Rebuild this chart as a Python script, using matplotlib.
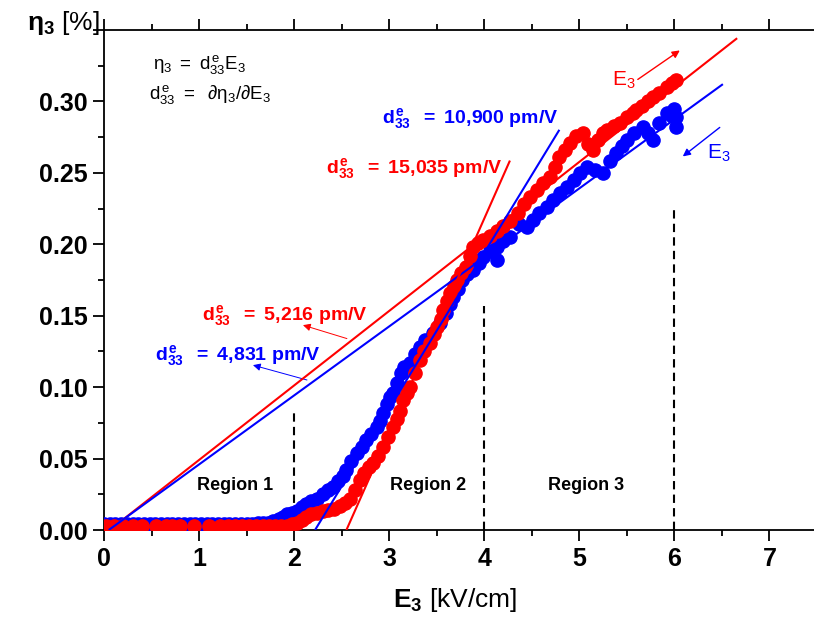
import matplotlib
matplotlib.use("Agg")
import matplotlib.pyplot as plt
from matplotlib.ticker import MultipleLocator, FuncFormatter

plt.rcParams['font.family'] = ['Liberation Sans', 'DejaVu Sans']
plt.rcParams['mathtext.fontset'] = 'custom'
plt.rcParams['mathtext.rm'] = 'Liberation Sans'
plt.rcParams['mathtext.it'] = 'Liberation Sans:italic'
plt.rcParams['mathtext.bf'] = 'Liberation Sans:bold'

# ---------------- data ----------------
# increasing field (red)
red_x = [0.02, 0.10, 0.20, 0.30, 0.40, 0.55, 0.65, 0.72, 0.80, 0.95, 1.10, 1.22, 1.30,
         1.38, 1.45, 1.52, 1.60, 1.67, 1.74, 1.80, 1.86, 1.92, 1.98,
         2.03, 2.08, 2.13, 2.18, 2.24, 2.30, 2.36, 2.42, 2.48, 2.54, 2.59, 2.64, 2.69,
         2.74, 2.79, 2.83, 2.88, 2.94, 2.99, 3.04, 3.08, 3.11, 3.15, 3.19, 3.22, 3.27,
         3.32, 3.37, 3.43, 3.47, 3.50, 3.54, 3.57, 3.61, 3.64, 3.68, 3.71, 3.76, 3.81,
         3.85, 3.88, 3.93, 3.99, 4.06, 4.13, 4.20, 4.27, 4.35, 4.42, 4.48, 4.55, 4.62,
         4.69, 4.74, 4.79, 4.85, 4.90, 4.97, 5.04, 5.09, 5.14, 5.20, 5.25, 5.29, 5.36,
         5.43, 5.50, 5.56, 5.60, 5.66, 5.72, 5.77, 5.84, 5.92, 5.97, 6.02]
red_y = [0.003, 0.003, 0.003, 0.003, 0.003, 0.003, 0.003, 0.003, 0.003, 0.003, 0.003, 0.003, 0.003,
         0.003, 0.003, 0.003, 0.003, 0.003, 0.003, 0.003, 0.003, 0.003, 0.004,
         0.005, 0.007, 0.009, 0.011, 0.012, 0.013, 0.014, 0.015, 0.017, 0.019, 0.022, 0.028, 0.035,
         0.040, 0.044, 0.047, 0.052, 0.058, 0.065, 0.072, 0.078, 0.083, 0.091, 0.096, 0.100, 0.110,
         0.119, 0.125, 0.131, 0.137, 0.142, 0.148, 0.154, 0.160, 0.166, 0.171, 0.175, 0.180, 0.184,
         0.192, 0.198, 0.201, 0.203, 0.206, 0.209, 0.213, 0.216, 0.222, 0.228, 0.233, 0.238, 0.243,
         0.247, 0.254, 0.261, 0.266, 0.271, 0.276, 0.278, 0.270, 0.266, 0.273, 0.278, 0.280, 0.283,
         0.285, 0.289, 0.292, 0.294, 0.297, 0.300, 0.303, 0.306, 0.310, 0.313, 0.315]

# decreasing field (blue)
blue_x = [0.00, 0.06, 0.12, 0.18, 0.24, 0.30, 0.36, 0.42, 0.48, 0.54, 0.60, 0.66, 0.72, 0.78,
          0.84, 0.90, 0.96, 1.02, 1.08, 1.14, 1.20, 1.26, 1.32, 1.38, 1.44, 1.50, 1.56, 1.62, 1.67,
          1.72, 1.78, 1.84, 1.88, 1.93, 1.98, 2.03, 2.08, 2.13, 2.18, 2.24, 2.30, 2.36, 2.41,
          2.46, 2.51, 2.55, 2.60, 2.66, 2.71, 2.76, 2.81, 2.87, 2.90, 2.94, 2.98, 3.01, 3.04,
          3.08, 3.12, 3.16, 3.22, 3.27, 3.32, 3.38, 3.46, 3.53, 3.60, 3.64, 3.67, 3.72, 3.77,
          3.82, 3.88, 3.94, 3.99, 4.06, 4.13, 4.13, 4.20, 4.27, 4.37, 4.45, 4.51, 4.58, 4.66,
          4.72, 4.80, 4.87, 4.94, 5.01, 5.08, 5.16, 5.25, 5.32, 5.39, 5.45, 5.50, 5.58, 5.67,
          5.72, 5.77, 5.84, 5.92, 5.97, 6.02, 6.02, 6.00]
blue_y = [0.004, 0.004, 0.004, 0.004, 0.004, 0.004, 0.004, 0.004, 0.004, 0.004, 0.004, 0.004, 0.004, 0.004,
          0.004, 0.004, 0.004, 0.004, 0.004, 0.004, 0.004, 0.004, 0.004, 0.004, 0.004, 0.004, 0.004, 0.005, 0.005,
          0.005, 0.006, 0.008, 0.009, 0.011, 0.012, 0.013, 0.016, 0.018, 0.020, 0.022, 0.025, 0.028, 0.030,
          0.034, 0.038, 0.042, 0.048, 0.054, 0.058, 0.063, 0.067, 0.072, 0.076, 0.082, 0.088, 0.093, 0.096,
          0.103, 0.110, 0.114, 0.117, 0.123, 0.128, 0.133, 0.138, 0.145, 0.152, 0.158, 0.163, 0.169, 0.175,
          0.179, 0.182, 0.187, 0.191, 0.195, 0.198, 0.189, 0.202, 0.205, 0.214, 0.212, 0.217, 0.222, 0.226,
          0.231, 0.236, 0.240, 0.245, 0.250, 0.254, 0.252, 0.250, 0.258, 0.264, 0.269, 0.273, 0.278, 0.282,
          0.278, 0.273, 0.285, 0.292, 0.290, 0.289, 0.282, 0.295]

# linear fits: (slope in %/(kV/cm), x-intercept, x end)
fit_red_low = (0.05216, 0.06, 6.66)
fit_blue_low = (0.04831, 0.05, 6.51)
fit_red_high = (0.15035, 2.55, 4.27)
fit_blue_high = (0.10900, 2.22, 4.79)

region_bounds = [2, 4, 6]
region_tops = [0.083, 0.157, 0.224]
region_labels = ['Region 1', 'Region 2', 'Region 3']
region_label_x = [1.38, 3.41, 5.07]

RED = '#ff0000'
BLUE = '#0000ff'

fig = plt.figure(figsize=(8.14, 6.17), dpi=100)
ax = fig.add_axes([104/814, 87/617, 713/814, 500/617])

ax.plot(blue_x, blue_y, 'o', color=BLUE, ms=9.5, mec=BLUE, zorder=3)
ax.plot(red_x, red_y, 'o', color=RED, ms=9.5, mec=RED, zorder=4)

for (s, x0, x1), c in [(fit_red_low, RED), (fit_blue_low, BLUE),
                       (fit_red_high, RED), (fit_blue_high, BLUE)]:
    ax.plot([x0, x1], [0, s * (x1 - x0)], color=c, lw=1.5, zorder=5, solid_capstyle='butt')

for xb, yt in zip(region_bounds, region_tops):
    ax.plot([xb, xb], [0, yt], color='black', ls=(0, (4, 2.5)), lw=1.5, zorder=2)
for lab, xl in zip(region_labels, region_label_x):
    ax.text(xl, 0.031, lab, ha='center', va='center', fontsize=13, fontweight='bold')

d = r'$\mathbf{d^{\,e}_{33}}$'
ax.text(2.92, 0.288, d + r'$\mathbf{\ \ =\ 10{,}900\ pm/V}$', color=BLUE, fontsize=14, va='center')
ax.text(2.33, 0.253, d + r'$\mathbf{\ \ =\ 15{,}035\ pm/V}$', color=RED, fontsize=14, va='center')
ax.text(1.03, 0.150, d + r'$\mathbf{\ \ =\ 5{,}216\ pm/V}$', color=RED, fontsize=14, va='center')
ax.text(0.54, 0.122, d + r'$\mathbf{\ \ =\ 4{,}831\ pm/V}$', color=BLUE, fontsize=14, va='center')

ax.text(0.52, 0.326, r'$\mathrm{\eta_3\ =\ d^{\,e}_{33}E_3}$', fontsize=13.5, va='center')
ax.text(0.47, 0.305, r'$\mathrm{d^{\,e}_{33}\ =\ \ \partial\eta_3/\partial E_3}$', fontsize=13.5, va='center')

ax.text(5.34, 0.315, r'$\mathrm{E_3}$', color=RED, fontsize=15, va='center')
ax.text(6.34, 0.264, r'$\mathrm{E_3}$', color=BLUE, fontsize=15, va='center')

ap = dict(arrowstyle='-|>', lw=1.0, mutation_scale=11, shrinkA=0, shrinkB=0)
ax.annotate('', xy=(6.057, 0.3357), xytext=(5.615, 0.3154), arrowprops=dict(ap, color=RED))
ax.annotate('', xy=(6.088, 0.2615), xytext=(6.477, 0.2818), arrowprops=dict(ap, color=BLUE))
ax.annotate('', xy=(2.093, 0.1434), xytext=(2.555, 0.134), arrowprops=dict(ap, color=RED, lw=0.7))
ax.annotate('', xy=(1.567, 0.1154), xytext=(2.135, 0.105), arrowprops=dict(ap, color=BLUE, lw=0.7))

ax.set_xlim(0, 7.5)
ax.set_ylim(0, 0.35)
ax.xaxis.set_major_locator(MultipleLocator(1))
ax.xaxis.set_minor_locator(MultipleLocator(0.5))
ax.yaxis.set_major_locator(MultipleLocator(0.05))
ax.yaxis.set_minor_locator(MultipleLocator(0.025))
ax.yaxis.set_major_formatter(FuncFormatter(lambda v, p: '' if v > 0.32 else f'{v:.2f}'))
ax.tick_params(which='both', direction='out', width=1.3, top=True, right=False)
ax.tick_params(which='major', length=8, labelsize=18, pad=4)
ax.tick_params(which='minor', length=4.5)
for lab in ax.get_xticklabels() + ax.get_yticklabels():
    lab.set_fontweight('bold')
for sp in ax.spines.values():
    sp.set_linewidth(1.3)

fig.text(0.559, 0.028, r'$\mathbf{E_3}$ [kV/cm]', fontsize=19, ha='center', va='center')
fig.text(0.078, 0.962, r'$\mathbf{\eta_3}$ [%]', fontsize=19, ha='center', va='center')

fig.savefig('out.png', dpi=100)
